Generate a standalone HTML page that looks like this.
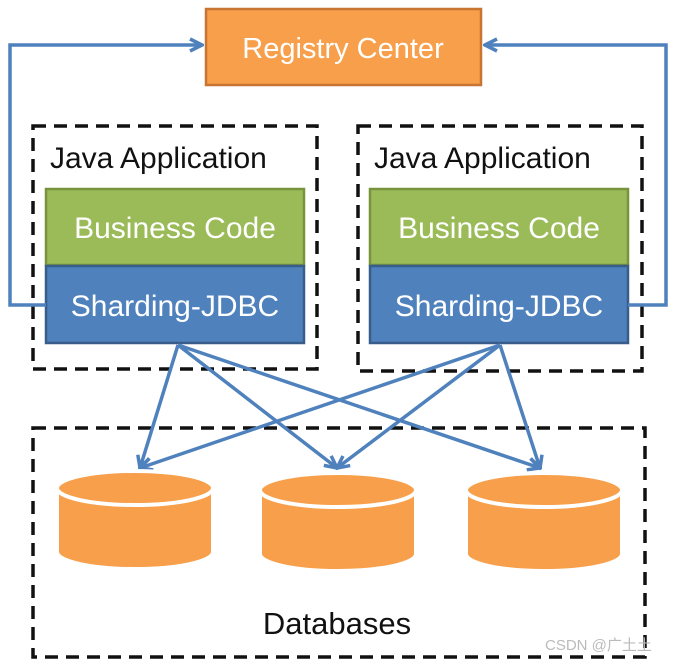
<!DOCTYPE html><html><head><style>body{margin:0;background:#fff;width:678px;height:664px;overflow:hidden}</style></head><body>
<svg width="678" height="664" xmlns="http://www.w3.org/2000/svg" font-family="Liberation Sans, sans-serif">
<defs><marker id="b" markerWidth="16" markerHeight="16" refX="14" refY="8" orient="auto" markerUnits="userSpaceOnUse" viewBox="0 0 16 16"><path d="M2,2 L14,8 L2,14" fill="none" stroke="#4f81bd" stroke-width="3.5"/></marker></defs>
<rect x="206" y="9" width="275" height="76" fill="#f79f4b" stroke="#c87533" stroke-width="2.5"/>
<text x="343" y="58" font-size="29" fill="#fff" text-anchor="middle">Registry Center</text>
<g fill="none" stroke="#111" stroke-width="3.5" stroke-dasharray="13,8">
<rect x="33" y="126" width="284" height="243"/><rect x="358" y="126" width="284" height="245"/><rect x="33" y="428" width="612" height="229"/></g>
<text x="50" y="168" font-size="30" fill="#111">Java Application</text>
<text x="374" y="168" font-size="30" fill="#111">Java Application</text>
<rect x="46" y="189" width="258" height="76" fill="#9bbb59" stroke="#77933c" stroke-width="2.5"/>
<rect x="46" y="266" width="258" height="77" fill="#4f81bd" stroke="#385d8a" stroke-width="2.5"/>
<rect x="370" y="189" width="258" height="76" fill="#9bbb59" stroke="#77933c" stroke-width="2.5"/>
<rect x="370" y="266" width="258" height="77" fill="#4f81bd" stroke="#385d8a" stroke-width="2.5"/>
<g font-size="30" fill="#fff" text-anchor="middle"><text x="175" y="238">Business Code</text><text x="175" y="316">Sharding-JDBC</text><text x="499" y="238">Business Code</text><text x="499" y="316">Sharding-JDBC</text></g>
<g fill="none" stroke="#4f81bd" stroke-width="3.5">
<path d="M46,305 H10 V45 H202" marker-end="url(#b)"/><path d="M628,305 H666 V45 H485" marker-end="url(#b)"/>
<g marker-end="url(#b)"><path d="M178,345 L140,468"/><path d="M178,345 L337,468"/><path d="M178,345 L540,468"/><path d="M500,345 L140,468"/><path d="M500,345 L337,468"/><path d="M500,345 L540,468"/></g></g>
<g fill="#f79f4b" stroke="#fff" stroke-width="4">
<g transform="translate(57,0)"><path d="M0,488 V552 A78,17 0 0 0 156,552 V488 Z"/><ellipse cx="78" cy="488" rx="78" ry="17"/></g>
<g transform="translate(260,0)"><path d="M0,490 V554 A78,17 0 0 0 156,554 V490 Z"/><ellipse cx="78" cy="490" rx="78" ry="17"/></g>
<g transform="translate(466,0)"><path d="M0,490 V554 A78,17 0 0 0 156,554 V490 Z"/><ellipse cx="78" cy="490" rx="78" ry="17"/></g></g>
<text x="337" y="634" font-size="31" fill="#111" text-anchor="middle">Databases</text>
<text x="545" y="650" font-size="15" fill="#bbb" font-family="Liberation Sans, Noto Sans CJK SC, sans-serif">CSDN @广土土</text>
</svg></body></html>
